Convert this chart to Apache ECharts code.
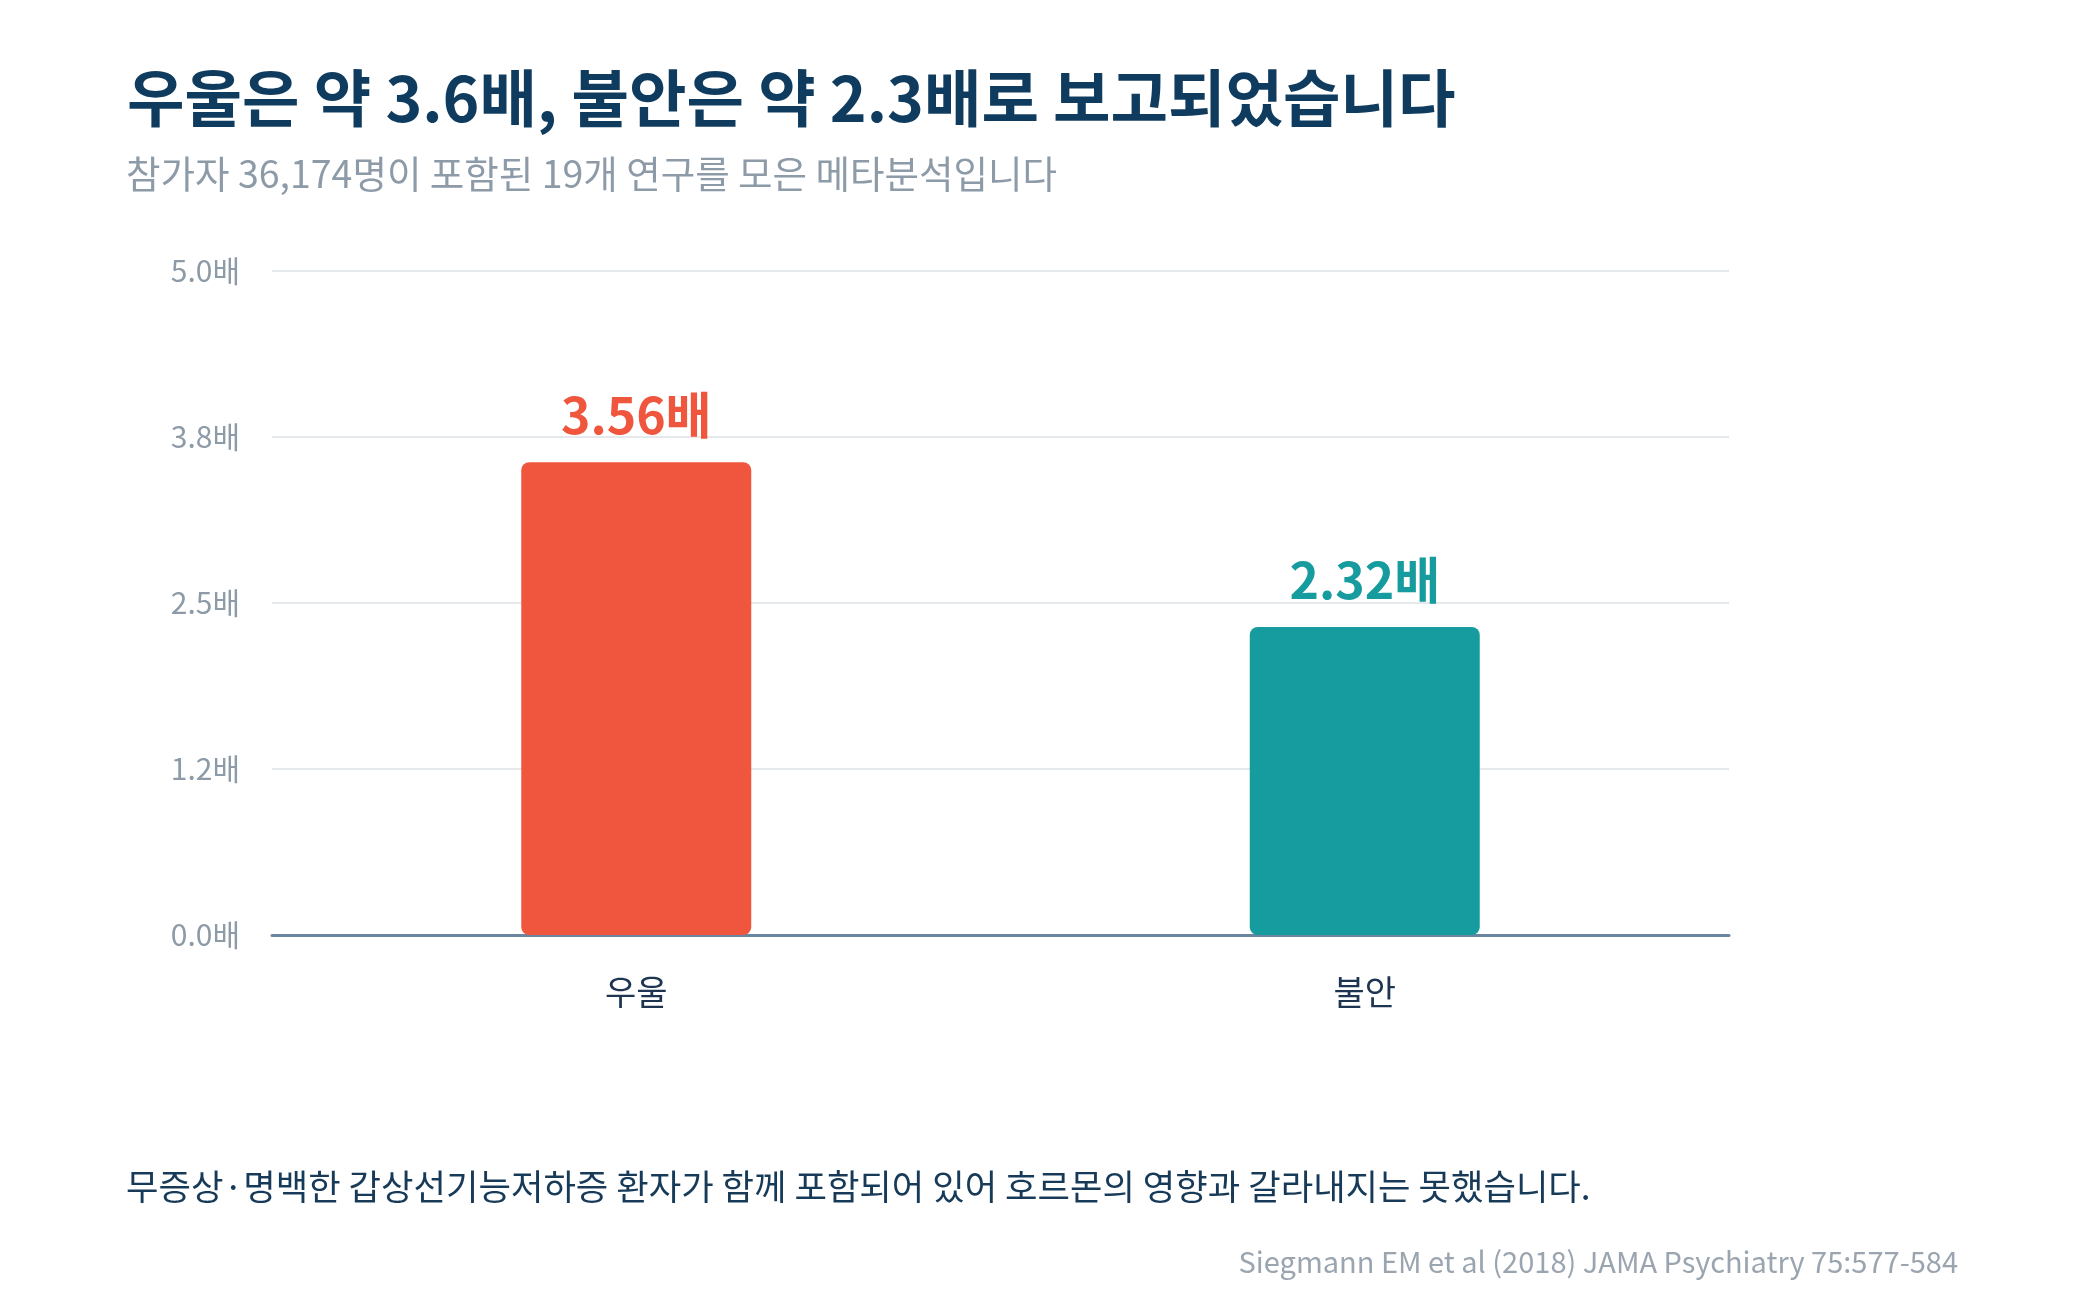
<!DOCTYPE html>
<html>
<head>
<meta charset="utf-8">
<script src="https://cdn.jsdelivr.net/npm/echarts@6/dist/echarts.min.js"></script>
<style>
  html, body { margin: 0; padding: 0; background: #ffffff; }
  #chart { width: 2083px; height: 1313px; }
</style>
</head>
<body>
<div id="chart"></div>
<script>
// data
var categories = ['우울', '불안'];
var ratios = [3.56, 2.32];
var barColors = ['#F0563D', '#169C9E'];
var tickLabels = ['0.0배', '1.2배', '2.5배', '3.8배', '5.0배'];

var FONT = '"Noto Sans CJK KR", "Noto Sans", sans-serif';

var myChart = echarts.init(document.getElementById('chart'));
var option = {
    backgroundColor: '#ffffff',
    textStyle: { fontFamily: FONT },
    title: [
        {
            text: '우울은 약 3.6배, 불안은 약 2.3배로 보고되었습니다',
            left: 122,
            top: 60,
            textStyle: { fontFamily: FONT, fontSize: 62.5, fontWeight: 'bold', color: '#0F3B5E', lineHeight: 66 }
        },
        {
            text: '참가자 36,174명이 포함된 19개 연구를 모은 메타분석입니다',
            left: 121,
            top: 148,
            textStyle: { fontFamily: FONT, fontSize: 37.5, fontWeight: 'normal', color: '#8D9BA8', lineHeight: 42 }
        }
    ],
    grid: {
        left: 272,
        right: 354,
        top: 271,
        bottom: 378,
        containLabel: false
    },
    xAxis: {
        type: 'category',
        data: categories,
        axisTick: { show: false },
        axisLine: { show: true, lineStyle: { color: '#6A86A0', width: 3 } },
        axisLabel: { margin: 40, fontSize: 34, color: '#1D3550', fontFamily: FONT }
    },
    yAxis: {
        type: 'value',
        min: 0,
        max: 5,
        interval: 1.25,
        axisLine: { show: false },
        axisTick: { show: false },
        splitLine: { lineStyle: { color: '#E6E9EC', width: 2 } },
        axisLabel: {
            margin: 32,
            fontSize: 30,
            color: '#8D9BA8',
            fontFamily: FONT,
            formatter: function (v) {
                return tickLabels[Math.round(v / 1.25)];
            }
        }
    },
    series: [
        {
            type: 'bar',
            barWidth: 230,
            data: ratios.map(function (v, i) {
                return {
                    value: v,
                    itemStyle: { color: barColors[i], borderRadius: 8 },
                    label: { color: barColors[i] }
                };
            }),
            label: {
                show: true,
                position: 'top',
                distance: 22,
                fontSize: 50,
                fontWeight: 'bold',
                fontFamily: FONT,
                formatter: function (p) { return p.value.toFixed(2) + '배'; }
            },
            z: 1
        }
    ],
    graphic: [
        {
            type: 'text',
            left: 126,
            top: 1169,
            style: {
                text: '무증상·명백한 갑상선기능저하증 환자가 함께 포함되어 있어 호르몬의 영향과 갈라내지는 못했습니다.',
                font: '35.3px ' + FONT,
                fill: '#173A58'
            }
        },
        {
            type: 'text',
            right: 125,
            top: 1247,
            style: {
                text: 'Siegmann EM et al (2018) JAMA Psychiatry 75:577-584',
                font: '29px ' + FONT,
                fill: '#9AA5B0'
            }
        }
    ]
};
myChart.setOption(option);
</script>
</body>
</html>
